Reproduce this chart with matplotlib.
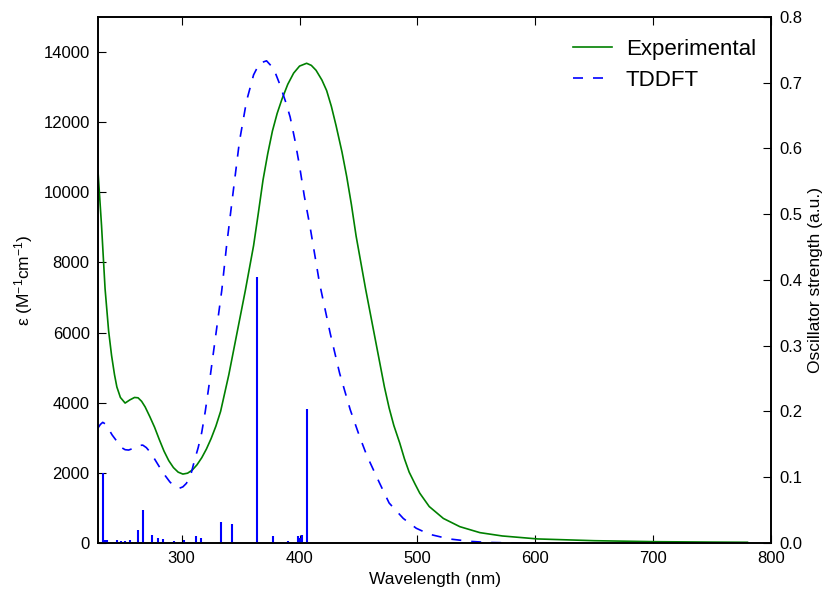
import matplotlib
matplotlib.use("Agg")
import matplotlib.pyplot as plt

plt.rcParams['font.family'] = ['Liberation Sans', 'DejaVu Sans']
plt.rcParams['mathtext.default'] = 'regular'
plt.rcParams['xtick.direction'] = 'in'
plt.rcParams['ytick.direction'] = 'in'
plt.rcParams['xtick.top'] = True

# experimental absorption spectrum (nm, M^-1 cm^-1)
exp_wl = [229, 232, 235, 238, 240.5, 243, 245, 248, 252, 256, 260, 263, 266, 269,
          273, 277, 281, 285, 289, 293, 297, 301, 305, 309, 313, 317, 321, 325,
          329, 333, 340, 347, 354, 361, 365, 369, 373, 377, 381, 385, 390, 395,
          400, 406, 410, 414, 419, 423, 427, 431, 436, 440, 444, 448, 452, 456,
          460, 464, 468, 472, 476, 480, 485, 489, 493, 498, 502, 510, 522, 536,
          553, 572, 595, 602, 650, 702, 750, 780]
exp_eps = [10600, 9050, 7250, 6050, 5350, 4800, 4450, 4150, 3990, 4080, 4150, 4140,
           4040, 3880, 3600, 3300, 2950, 2620, 2350, 2150, 2020, 1965, 1990, 2080,
           2230, 2430, 2680, 2980, 3330, 3750, 4800, 6000, 7200, 8480, 9400, 10350,
           11100, 11750, 12250, 12650, 13080, 13400, 13600, 13680, 13620, 13480,
           13200, 12900, 12450, 11900, 11150, 10450, 9650, 8750, 8000, 7250, 6550,
           5850, 5150, 4450, 3850, 3350, 2850, 2400, 2020, 1680, 1420, 1040, 700,
           465, 295, 200, 135, 115, 65, 37, 25, 20]

# broadened TDDFT spectrum
td_wl = [229, 231, 233, 235, 238, 241, 245, 249, 252, 255, 259, 263, 267, 270, 274,
         278, 282, 286, 290, 294, 298, 301, 304, 308, 311, 314, 317, 320, 323, 326,
         330, 334, 338, 344, 349, 355, 361, 366, 372, 378, 383, 388, 392, 396, 400,
         404, 409, 417, 426, 434, 443, 451, 457, 460, 468, 476, 488, 499, 510, 527,
         545, 560, 580, 600]
td_eps = [3280, 3380, 3440, 3400, 3250, 3080, 2900, 2720, 2660, 2650, 2700, 2780,
          2790, 2720, 2560, 2340, 2120, 1920, 1740, 1610, 1560, 1600, 1700, 1980,
          2370, 2720, 3150, 3750, 4450, 5200, 6200, 7200, 8450, 10100, 11450, 12600,
          13350, 13680, 13750, 13530, 13100, 12600, 12150, 11500, 10750, 9900, 9000,
          7400, 5980, 4840, 3800, 3030, 2500, 2280, 1700, 1140, 700, 420, 250, 115,
          45, 15, 3, 0]

# oscillator strengths
stick_wl = [233.6, 235.2, 236.5, 244.9, 248.5, 252, 256.2, 263.2, 267, 274.6, 279.7,
            284.4, 293.5, 302.2, 311.9, 316.4, 333.1, 342.4, 363.6, 377.4, 390.3,
            398.3, 400.5, 402.3, 406.2]
stick_f = [0.106, 0.005, 0.004, 0.004, 0.003, 0.003, 0.005, 0.019, 0.050, 0.012,
           0.007, 0.006, 0.003, 0.004, 0.011, 0.007, 0.032, 0.029, 0.404, 0.011,
           0.003, 0.011, 0.008, 0.012, 0.204]

fig = plt.figure(figsize=(8.27, 5.9), dpi=100)
ax = fig.add_axes([0.1185, 0.0797, 0.8138, 0.8915])
ax.plot(exp_wl, exp_eps, color='green', lw=1.2, label='Experimental')
ax.plot(td_wl, td_eps, color='blue', lw=1.2, ls=(0, (6, 6)), label='TDDFT')
ax.set_xlim(229, 800)
ax.set_ylim(0, 15000)
ax.set_yticks(range(0, 15000, 2000))
ax.set_xlabel('Wavelength (nm)', fontsize=12.5, labelpad=4)
ax.set_ylabel('ε (M$^{-1}$cm$^{-1}$)', fontsize=12.5, labelpad=6)
ax.tick_params(labelsize=12, length=6, pad=6)
ax.legend(loc='upper right', bbox_to_anchor=(1.0, 0.986), frameon=False,
          fontsize=16, handlelength=1.75, handletextpad=0.65, labelspacing=0.45,
          borderaxespad=0.27)

ax2 = ax.twinx()
ax2.vlines(stick_wl, 0, stick_f, color='blue', lw=1.5)
ax2.set_ylim(0, 0.8)
ax2.set_ylabel('Oscillator strength (a.u.)', fontsize=12.5, labelpad=4)
ax2.tick_params(labelsize=12, length=6, pad=6)

for a in (ax, ax2):
    for s in a.spines.values():
        s.set_linewidth(1.2)

fig.savefig('out.png', dpi=100)
